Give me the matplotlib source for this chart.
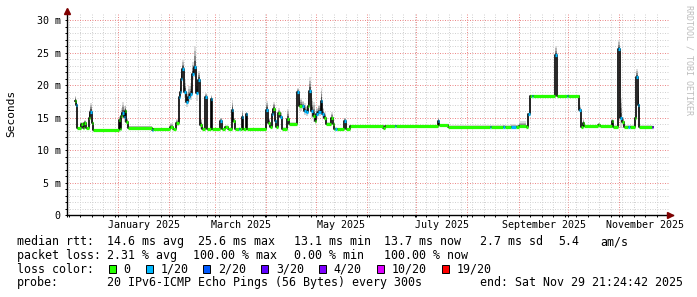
import numpy as np
import matplotlib
matplotlib.use('Agg')
import matplotlib.pyplot as plt
from matplotlib.patches import Rectangle
import matplotlib.transforms as mtransforms

# Median rtt as steps: start day (days since 2025-01-01), median in ms,
# loss class (index into loss_colors) and top of the smoke in ms
seg_day = [
    -26.4, -25.8, -25.0, -22.4, -21.4, -20.4, -19.6, -17.6, -16.9, -16.1,
    -15.2, 0.3, 1.0, 1.8, 2.6, 3.4, 4.2, 5.0, 5.9, 20.4,
    21.3, 31.6, 33.2, 35.1, 36.8, 37.4, 38.0, 38.8, 40.1, 41.3,
    42.6, 43.7, 44.9, 46.1, 47.3, 48.5, 49.9, 51.2, 53.0, 54.0,
    56.3, 57.2, 62.0, 63.2, 64.7, 66.5, 69.2, 70.0, 71.0, 73.1,
    74.2, 75.3, 76.0, 77.5, 78.4, 90.0, 90.9, 91.9, 93.4, 94.2,
    95.1, 96.0, 97.0, 98.4, 99.6, 102.6, 103.7, 108.8, 110.0, 111.4,
    112.8, 114.0, 115.1, 116.0, 117.1, 118.2, 119.3, 120.3, 121.5, 122.9,
    123.8, 124.8, 126.0, 129.4, 130.2, 131.1, 131.8, 132.6, 137.3, 138.0,
    140.6, 161.0, 161.8, 168.2, 168.9, 193.9, 194.8, 200.0, 225.5, 226.2,
    233.5, 234.6, 238.5, 241.6, 243.0, 247.4, 248.6, 249.7, 251.4, 252.0,
    265.0, 266.3, 272.2, 272.9, 279.9, 281.0, 282.0, 282.9, 291.5, 292.3,
    299.6, 300.3, 303.3, 304.6, 305.6, 307.0, 309.7, 310.4, 313.6, 314.4,
    315.4, 316.3, 323.8]
seg_rtt = [
    17.6, 16.9, 13.4, 14.0, 13.4, 14.2, 13.4, 15.0, 15.9, 14.2,
    13.1, 14.6, 13.3, 15.2, 15.7, 15.1, 16.0, 14.3, 13.4, 13.1,
    13.2, 13.6, 13.2, 14.1, 18.1, 19.0, 20.9, 22.5, 19.0, 17.4,
    18.2, 18.6, 21.7, 22.8, 18.7, 20.8, 13.8, 13.3, 18.1, 13.2,
    17.8, 13.2, 14.4, 13.2, 13.5, 13.2, 16.1, 14.4, 13.2, 13.3,
    13.2, 15.1, 13.2, 15.5, 13.2, 16.2, 14.2, 13.5, 15.5, 16.3,
    14.5, 13.5, 15.7, 15.1, 13.3, 14.8, 14.0, 18.9, 16.7, 16.7,
    16.0, 15.8, 16.8, 19.1, 16.0, 15.3, 14.5, 15.5, 15.8, 17.6,
    15.5, 15.0, 14.0, 14.9, 14.0, 13.3, 13.3, 13.2, 14.4, 13.2,
    13.7, 13.4, 13.7, 13.7, 13.7, 14.4, 13.9, 13.6, 13.6, 13.6,
    13.6, 13.6, 13.5, 13.6, 13.7, 13.6, 15.5, 18.3, 18.3, 18.3,
    24.6, 18.3, 18.3, 18.3, 16.2, 13.6, 14.2, 13.7, 13.9, 13.7,
    14.4, 13.6, 25.5, 14.9, 14.3, 13.6, 13.6, 13.6, 14.9, 21.3,
    17.0, 13.6, 13.6]
seg_loss = [
    0, 1, 0, 0, 0, 0, 0, 0, 1, 0,
    0, 0, 0, 0, 1, 1, 0, 0, 0, 1,
    0, 0, 0, 0, 1, 1, 1, 1, 1, 1,
    1, 1, 1, 1, 1, 1, 0, 0, 1, 0,
    1, 0, 1, 0, 0, 0, 1, 0, 0, 1,
    0, 1, 0, 1, 0, 1, 0, 0, 1, 0,
    1, 0, 0, 1, 0, 0, 0, 1, 0, 1,
    1, 1, 0, 1, 1, 0, 0, 1, 1, 1,
    1, 0, 0, 0, 0, 0, 1, 0, 1, 0,
    0, 0, 0, 1, 0, 1, 0, 0, 1, 0,
    1, 0, 1, 0, 0, 0, 1, 0, 1, 0,
    1, 0, 1, 0, 1, 0, 0, 0, 0, 0,
    0, 0, 1, 1, 0, 0, 1, 0, 0, 1,
    1, 0, 3]
seg_smoke = [
    18.3, 17.9, 13.6, 14.3, 13.6, 14.6, 13.6, 16.2, 17.2, 14.8,
    13.3, 15.2, 13.5, 16.5, 17.4, 16.8, 17.0, 15.0, 13.7, 13.3,
    13.4, 14.2, 13.4, 14.8, 18.8, 20.0, 22.5, 23.8, 20.8, 19.0,
    19.8, 20.3, 23.5, 26.0, 21.0, 22.2, 14.8, 13.5, 18.8, 13.4,
    18.5, 13.4, 15.0, 13.4, 13.8, 13.4, 17.7, 15.0, 13.4, 13.5,
    13.4, 16.2, 13.4, 15.9, 13.4, 17.6, 15.0, 13.7, 16.5, 17.4,
    15.0, 13.7, 16.4, 15.8, 13.5, 16.3, 14.3, 19.6, 18.0, 17.6,
    17.2, 16.8, 18.5, 21.2, 18.0, 17.4, 15.5, 16.5, 17.0, 19.6,
    16.5, 15.8, 14.3, 15.8, 14.2, 13.5, 13.5, 13.4, 15.0, 13.4,
    13.9, 13.5, 13.9, 13.9, 13.9, 15.1, 14.0, 13.8, 13.8, 13.8,
    13.9, 13.8, 14.0, 13.9, 14.4, 13.8, 15.7, 18.5, 18.5, 18.5,
    26.0, 18.5, 18.5, 18.5, 16.8, 13.8, 14.8, 13.9, 14.2, 13.9,
    14.7, 13.8, 26.9, 18.0, 15.1, 13.8, 13.8, 13.8, 15.3, 22.4,
    19.5, 13.8, 13.7]
data_end = 324.5

loss_colors = ['#26ff00', '#00b8ff', '#0059ff', '#5e00ff', '#7e00ff', '#dd00ff', '#ff0000']
loss_labels = ['0', '1/20', '2/20', '3/20', '4/20', '10/20', '19/20']

stats_rtt = [('median rtt:', 16.7), ('14.6 ms avg', 107.3), ('25.6 ms max', 198.0),
             ('13.1 ms min', 293.5), ('13.7 ms now', 383.5), ('2.7 ms sd', 480.5),
             ('5.4', 558.5), ('am/s', 600.0)]
stats_loss = [('packet loss:', 16.7), ('2.31 % avg', 107.3), ('100.00 % max', 193.5),
              ('0.00 % min', 293.5), ('100.00 % now', 383.5)]
probe_text = '20 IPv6-ICMP Echo Pings (56 Bytes) every 300s'
end_text = 'end: Sat Nov 29 21:24:42 2025'

W, H = 697, 297
mono = 'DejaVu Sans Mono'

fig = plt.figure(figsize=(W / 100, H / 100), dpi=100)
fig.patch.set_facecolor('white')
ax = fig.add_axes([67 / W, 82 / H, 602 / W, 202 / H])
ax.set_xlim(-26.36, 334.3)
ax.set_ylim(0, 31.08)
for s in ax.spines.values():
    s.set_visible(False)

# grid: weekly minor, monthly major
month_start = np.arange('2024-12', '2026-01', dtype='datetime64[M]')
month_day = (month_start.astype('datetime64[D]') - np.datetime64('2025-01-01')).astype(int)
week_day = np.arange(-30, 340, 7)
ax.set_xticks(month_day)
ax.set_xticks(week_day, minor=True)
ax.set_xticklabels([])
ax.set_yticks(np.arange(0, 31, 5))
ax.set_yticks(np.arange(0, 31, 1), minor=True)
ax.set_yticklabels(['0' if v == 0 else '%d m' % v for v in range(0, 31, 5)],
                   family=mono, fontsize=7.2)
ax.grid(which='minor', color='#d2d2d2', lw=0.72, ls=(0, (1, 1.5)), snap=True)
ax.grid(which='major', color='#ec8a8a', lw=0.72, ls=(0, (1, 1.5)), snap=True)
ax.set_axisbelow(True)
ax.tick_params(which='both', direction='out', length=1.6, width=0.7, color='black', pad=3)

# smoke
x_edges = np.append(seg_day, data_end)
med = np.append(seg_rtt, seg_rtt[-1])
top = np.append(seg_smoke, seg_smoke[-1])
spread = top - med
ax.fill_between(x_edges, med - spread * 0.5, med, step='post', color='#d4d4d4', lw=0)
for frac, shade in zip([1.0, 0.75, 0.5, 0.28], ['#dcdcdc', '#b4b4b4', '#888888', '#505050']):
    ax.fill_between(x_edges, med, med + spread * frac, step='post', color=shade, lw=0)

# median line
ax.step(x_edges, med, where='post', color='black', lw=1.2)
ax.hlines(seg_rtt, x_edges[:-1], x_edges[1:],
          colors=[loss_colors[l] for l in seg_loss], lw=2.3)

# axes with arrows
ax.plot([0, 0], [0, 206 / 202], color='black', lw=1.0, transform=ax.transAxes, clip_on=False)
ax.plot([0, 606 / 602], [0, 0], color='black', lw=1.0, transform=ax.transAxes, clip_on=False)
ax.plot(0, 204 / 202, marker='^', color='#800000', ms=4, transform=ax.transAxes, clip_on=False)
ax.plot(603 / 602, 0, marker='>', color='#800000', ms=4, transform=ax.transAxes, clip_on=False)

# month labels, centred half a month after the month start
trans = mtransforms.blended_transform_factory(ax.transData, ax.transAxes)
for m, d in zip(month_start[1::2], month_day[1::2]):
    name = m.astype(object).strftime('%B %Y')
    ax.text(d + 15.5, -10 / 202, name, transform=trans, ha='center', va='center',
            family=mono, fontsize=7.2)

fig.text(10.8 / W, 1 - 113.5 / H, 'Seconds', rotation=90, ha='center', va='center',
         family=mono, fontsize=8)
fig.text(688.5 / W, 1 - 5 / H, 'RRDTOOL / TOBI OETIKER', rotation=270, ha='center',
         va='top', family=mono, fontsize=6, color='#bdbdbd')

# legend lines
def row(items, y):
    for txt, x in items:
        fig.text(x / W, 1 - y / H, txt, ha='left', va='center', family=mono, fontsize=8.4)

row(stats_rtt, 241.7)
row(stats_loss, 255.3)
row([('loss color:', 16.7)], 269.3)
sq_x = [108.7, 145.7, 203.3, 261.4, 319.2, 377.0, 441.9]
for c, lab, x in zip(loss_colors, loss_labels, sq_x):
    fig.patches.append(Rectangle((x / W, 1 - 273.3 / H), 7 / W, 8 / H, facecolor=c,
                                 edgecolor='black', lw=0.7, transform=fig.transFigure))
    fig.text((x + 14.6) / W, 1 - 269.3 / H, lab, ha='left', va='center', family=mono, fontsize=8.4)
row([('probe:', 16.7), (probe_text, 107.3), (end_text, 479.5)], 282.8)

fig.savefig('out.png', dpi=100, facecolor='white')
